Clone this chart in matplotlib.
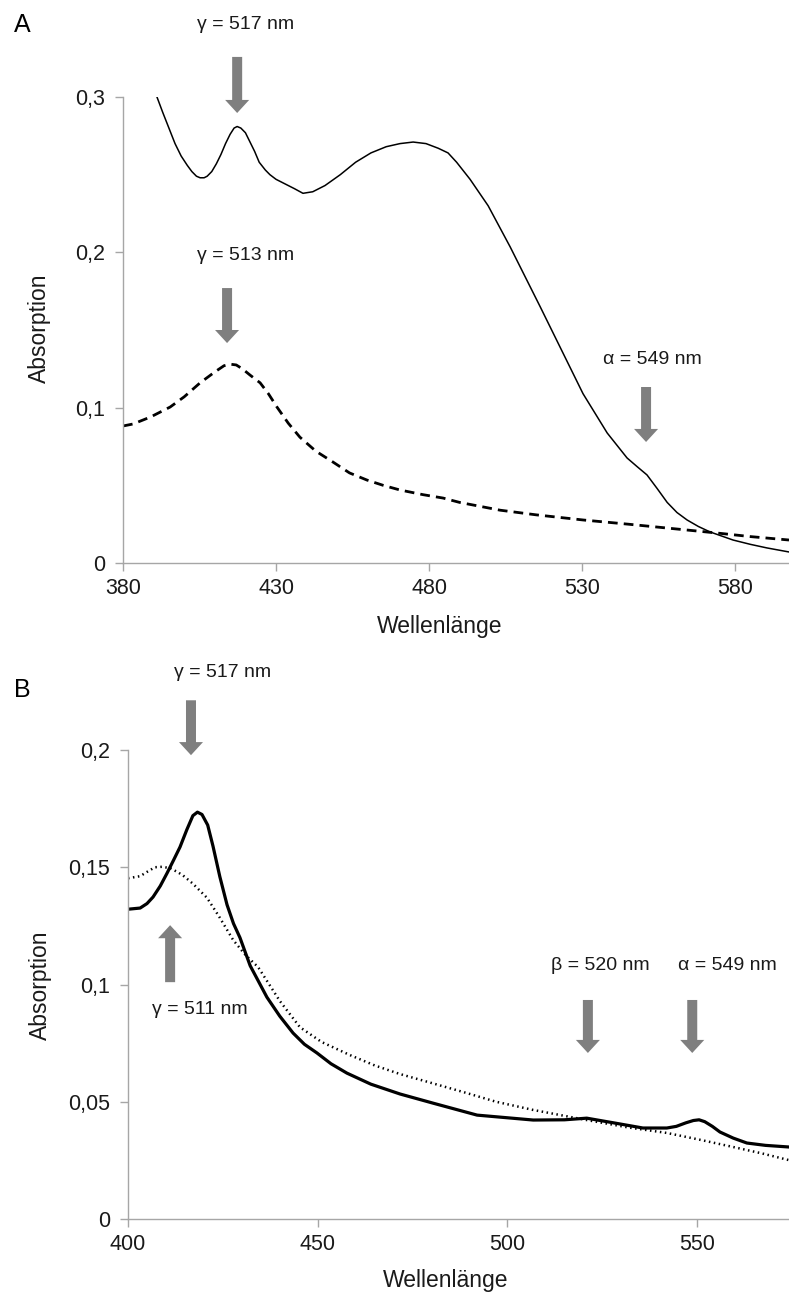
import numpy as np
import matplotlib
matplotlib.use('Agg')
import matplotlib.pyplot as plt

plt.rcParams['font.family'] = ['Liberation Sans', 'DejaVu Sans']

# Panel A - durchgezogene Kurve
a_solid_wl = [391.1, 393.0, 395.0, 397.0, 399.0, 401.0, 402.5, 404.0, 405.2, 406.5, 407.5,
              409.0, 410.5, 412.0, 413.5, 415.0, 416.3, 417.3, 418.5, 420.0, 421.5, 423.0,
              424.5, 426.5, 428.0, 430.0, 432.0, 434.0, 436.0, 438.8, 442.0, 446.0, 451.0,
              456.0, 461.0, 466.0, 470.5, 474.8, 479.0, 483.0, 486.2, 489.0, 493.4, 499.3,
              506.5, 516.3, 522.8, 530.3, 538.2, 544.7, 548.0, 551.2, 554.5, 557.8, 561.0,
              564.3, 568.0, 571.8, 579.3, 585.0, 590.4, 597.6]
a_solid_abs = [0.300, 0.290, 0.280, 0.270, 0.262, 0.256, 0.252, 0.249, 0.248, 0.248, 0.249,
               0.252, 0.257, 0.263, 0.270, 0.276, 0.280, 0.281, 0.280, 0.277, 0.271, 0.265,
               0.258, 0.253, 0.250, 0.247, 0.245, 0.243, 0.241, 0.238, 0.239, 0.243, 0.250,
               0.258, 0.264, 0.268, 0.270, 0.271, 0.270, 0.267, 0.264, 0.258, 0.247, 0.230,
               0.2035, 0.165, 0.139, 0.109, 0.0837, 0.0676, 0.0620, 0.0567, 0.0480, 0.039, 0.0325,
               0.0277, 0.0235, 0.020, 0.0148, 0.012, 0.0097, 0.0071]

# Panel A - gestrichelte Kurve
a_dash_wl = [380.0, 383.3, 389.0, 395.4, 400.0, 405.2, 410.0, 413.0, 415.0, 417.0, 419.0,
             421.5, 424.8, 427.5, 430.3, 434.0, 437.8, 443.0, 448.6, 454.0, 459.7, 465.0,
             470.5, 478.0, 484.6, 490.0, 503.2, 515.0, 530.3, 545.0, 557.8, 574.1, 585.0, 597.6]
a_dash_abs = [0.0882, 0.0895, 0.094, 0.1004, 0.107, 0.116, 0.123, 0.127, 0.128, 0.1275, 0.125,
              0.121, 0.116, 0.109, 0.1004, 0.090, 0.081, 0.072, 0.065, 0.058, 0.0534, 0.050,
              0.047, 0.044, 0.0418, 0.039, 0.034, 0.031, 0.0277, 0.025, 0.0225, 0.0193, 0.017, 0.0148]

# Panel B - durchgezogene Kurve
b_solid_wl = [400.0, 403.2, 405.0, 406.6, 408.5, 410.3, 412.0, 413.7, 415.5, 417.1, 418.3,
              419.5, 421.0, 422.4, 424.2, 426.1, 427.8, 429.5, 432.2, 434.5, 436.6, 440.0,
              443.5, 446.5, 449.8, 453.5, 457.7, 464.0, 471.7, 480.4, 492.0, 506.8, 515.0,
              520.9, 528.0, 535.7, 542.0, 544.5, 547.0, 549.0, 550.5, 552.0, 554.0, 556.0,
              559.5, 563.1, 568.0, 574.2]
b_solid_abs = [0.1321, 0.1326, 0.1345, 0.1373, 0.142, 0.1475, 0.153, 0.1586, 0.166, 0.172, 0.1735,
               0.1725, 0.168, 0.159, 0.146, 0.134, 0.126, 0.120, 0.108, 0.101, 0.0946, 0.0865,
               0.0793, 0.0745, 0.0708, 0.0662, 0.0622, 0.0575, 0.0533, 0.0494, 0.0443, 0.0422, 0.0423,
               0.043, 0.041, 0.0388, 0.0388, 0.0395, 0.041, 0.0420, 0.0423, 0.0415, 0.0395, 0.0371,
               0.0345, 0.0324, 0.0314, 0.0307]

# Panel B - gepunktete Kurve
b_dot_wl = [400.0, 403.2, 405.0, 407.1, 409.0, 411.1, 413.0, 414.5, 417.1, 420.8, 424.0,
            427.7, 431.0, 434.3, 440.0, 445.3, 451.0, 458.5, 465.0, 471.7, 480.0, 489.3,
            497.0, 506.8, 520.9, 532.0, 542.0, 551.0, 559.5, 567.0, 574.2]
b_dot_abs = [0.1453, 0.1462, 0.148, 0.150, 0.1502, 0.1496, 0.148, 0.1465, 0.143, 0.137, 0.129,
             0.119, 0.1125, 0.1074, 0.093, 0.0818, 0.0755, 0.0699, 0.0655, 0.0618, 0.058, 0.0537,
             0.050, 0.0465, 0.0422, 0.039, 0.0367, 0.0337, 0.0307, 0.028, 0.0251]

axis_grey = '#a6a6a6'
arrow_grey = '#7f7f7f'
txt = '#1a1a1a'

W, H = 789, 1293
fig = plt.figure(figsize=(W / 100, H / 100), dpi=100)


def px_axes(left, top, right, bottom):
    return fig.add_axes([left / W, 1 - bottom / H, (right - left) / W, (bottom - top) / H])


def style_axes(ax):
    for s in ['top', 'right']:
        ax.spines[s].set_visible(False)
    for s in ['left', 'bottom']:
        ax.spines[s].set_color(axis_grey)
        ax.spines[s].set_linewidth(1.0)
    ax.tick_params(axis='both', colors=axis_grey, length=6, width=1.0, labelcolor=txt,
                   labelsize=15.5)
    ax.tick_params(axis='y', pad=7)
    ax.tick_params(axis='x', pad=5)
    ax.patch.set_alpha(0)


def block_arrow(ax, x, y_tail, y_tip):
    ax.annotate('', xy=(x, y_tip), xytext=(x, y_tail), xycoords='data',
                arrowprops=dict(arrowstyle='simple,head_length=9.4,head_width=17.3,tail_width=7.2',
                                mutation_scale=1, color=arrow_grey, lw=0,
                                shrinkA=0, shrinkB=0),
                annotation_clip=False)


def comma(v, pos):
    return ('%g' % v).replace('.', ',')


# ---------------- Panel A ----------------
axA = px_axes(123, 97, 789, 563)
axA.plot(a_solid_wl, a_solid_abs, color='black', lw=1.1)
lnA, = axA.plot(a_dash_wl, a_dash_abs, color='black', lw=2.0)
lnA.set_dashes([3.5, 2.2])
axA.set_xlim(380, 597.6)
axA.set_ylim(0, 0.3)
axA.set_xticks([380, 430, 480, 530, 580])
axA.set_yticks([0, 0.1, 0.2, 0.3])
axA.yaxis.set_major_formatter(plt.FuncFormatter(comma))
style_axes(axA)

block_arrow(axA, 417.3, 0.3258, 0.2897)
axA.text(419.9, 0.3464, 'γ = 517 nm', ha='center', va='center', fontsize=14, color=txt)
block_arrow(axA, 414.0, 0.177, 0.1416)
axA.text(419.9, 0.198, 'γ = 513 nm', ha='center', va='center', fontsize=14, color=txt)
block_arrow(axA, 550.9, 0.1133, 0.0779)
axA.text(552.9, 0.1307, 'α = 549 nm', ha='center', va='center', fontsize=14, color=txt)

# ---------------- Panel B ----------------
axB = px_axes(128, 750, 789, 1219)
axB.plot(b_solid_wl, b_solid_abs, color='black', lw=2.3)
axB.plot(b_dot_wl, b_dot_abs, color='black', lw=1.8, linestyle=(0, (0.6, 1.4)))
axB.set_xlim(400, 574.2)
axB.set_ylim(0, 0.2)
axB.set_xticks([400, 450, 500, 550])
axB.set_yticks([0, 0.05, 0.1, 0.15, 0.2])
axB.yaxis.set_major_formatter(plt.FuncFormatter(comma))
style_axes(axB)

block_arrow(axB, 416.6, 0.2212, 0.1978)
axB.text(424.9, 0.2332, 'γ = 517 nm', ha='center', va='center', fontsize=14, color=txt)
block_arrow(axB, 411.1, 0.1010, 0.1253)
axB.text(418.8, 0.0895, 'γ = 511 nm', ha='center', va='center', fontsize=14, color=txt)
block_arrow(axB, 521.2, 0.0934, 0.0708)
axB.text(524.4, 0.1083, 'β = 520 nm', ha='center', va='center', fontsize=14, color=txt)
block_arrow(axB, 548.7, 0.0934, 0.0708)
axB.text(558.0, 0.1083, 'α = 549 nm', ha='center', va='center', fontsize=14, color=txt)

# Achsentitel und Panelbuchstaben
fig.text(440 / W, 1 - 627 / H, 'Wellenlänge', ha='center', va='center', fontsize=16.5, color=txt)
fig.text(446 / W, 1 - 1281 / H, 'Wellenlänge', ha='center', va='center', fontsize=16.5, color=txt)
fig.text(39 / W, 1 - 328 / H, 'Absorption', ha='center', va='center', rotation=90, fontsize=16.5,
         color=txt)
fig.text(40 / W, 1 - 985 / H, 'Absorption', ha='center', va='center', rotation=90, fontsize=16.5,
         color=txt)
fig.text(22 / W, 1 - 25 / H, 'A', ha='center', va='center', fontsize=18, color='black')
fig.text(22 / W, 1 - 690 / H, 'B', ha='center', va='center', fontsize=18, color='black')

fig.savefig('out.png', dpi=100)
